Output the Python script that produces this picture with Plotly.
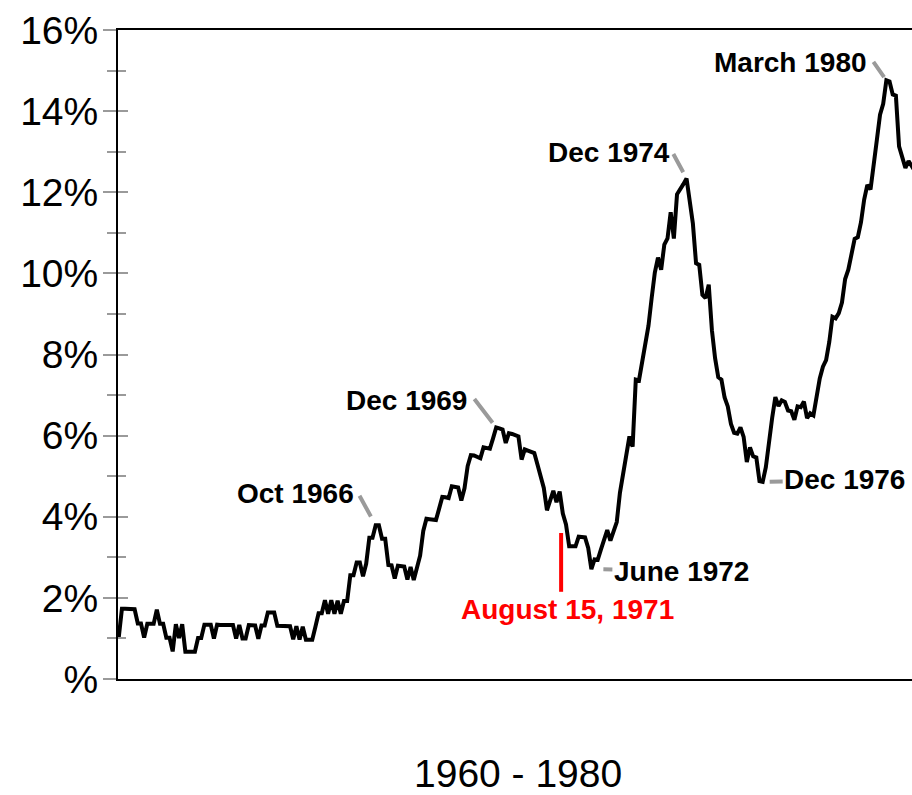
import plotly.graph_objects as go

# ---------------- data ----------------
START_YEAR = 1960
# US CPI, year-over-year change (%), monthly, Jan 1960 - Dec 1980
inflation_pct = [
    1.03, 1.73, 1.73, 1.72, 1.72, 1.72, 1.37, 1.37, 1.02, 1.36, 1.36, 1.36,  # 1960
    1.71, 1.36, 1.36, 1.02, 1.02, 0.68, 1.35, 1.01, 1.35, 0.67, 0.67, 0.67,  # 1961
    0.67, 1.01, 1.01, 1.34, 1.34, 1.34, 1.00, 1.34, 1.33, 1.33, 1.33, 1.33,  # 1962
    1.33, 1.00, 1.33, 1.00, 1.00, 1.33, 1.32, 1.32, 0.99, 1.32, 1.32, 1.64,  # 1963
    1.64, 1.64, 1.31, 1.31, 1.31, 1.31, 1.30, 0.98, 1.30, 0.97, 1.29, 0.97,  # 1964
    0.97, 0.97, 1.29, 1.62, 1.62, 1.94, 1.61, 1.94, 1.61, 1.93, 1.61, 1.92,  # 1965
    1.92, 2.56, 2.56, 2.87, 2.87, 2.53, 2.84, 3.48, 3.48, 3.79, 3.79, 3.46,  # 1966
    3.46, 2.81, 2.80, 2.48, 2.79, 2.78, 2.77, 2.45, 2.76, 2.44, 2.74, 3.04,  # 1967
    3.65, 3.95, 3.94, 3.93, 3.92, 4.20, 4.49, 4.48, 4.46, 4.75, 4.73, 4.72,  # 1968
    4.40, 4.70, 5.25, 5.52, 5.51, 5.48, 5.44, 5.71, 5.70, 5.68, 5.93, 6.20,  # 1969
    6.18, 6.15, 5.82, 6.06, 6.04, 6.01, 5.98, 5.41, 5.66, 5.63, 5.60, 5.57,  # 1970
    5.29, 5.00, 4.71, 4.16, 4.40, 4.64, 4.36, 4.62, 4.08, 3.81, 3.27, 3.27,  # 1971
    3.27, 3.51, 3.50, 3.49, 3.23, 2.71, 2.95, 2.94, 3.19, 3.42, 3.67, 3.41,  # 1972
    3.65, 3.87, 4.59, 5.06, 5.53, 5.98, 5.73, 7.38, 7.36, 7.80, 8.25, 8.71,  # 1973
    9.39, 10.02, 10.39, 10.09, 10.71, 10.86, 11.51, 10.86, 11.95, 12.06, 12.20, 12.34,  # 1974
    11.80, 11.23, 10.25, 10.21, 9.47, 9.39, 9.72, 8.60, 7.91, 7.44, 7.38, 6.94,  # 1975
    6.72, 6.29, 6.07, 6.05, 6.20, 5.97, 5.35, 5.71, 5.49, 5.46, 4.88, 4.86,  # 1976
    5.22, 5.91, 6.44, 6.95, 6.73, 6.87, 6.83, 6.62, 6.60, 6.39, 6.72, 6.70,  # 1977
    6.84, 6.43, 6.55, 6.50, 6.97, 7.41, 7.70, 7.86, 8.31, 8.93, 8.89, 9.02,  # 1978
    9.28, 9.86, 10.09, 10.49, 10.85, 10.89, 11.26, 11.82, 12.18, 12.07, 12.61, 13.29,  # 1979
    13.91, 14.18, 14.76, 14.73, 14.41, 14.38, 13.13, 12.87, 12.60, 12.77, 12.65, 12.52,  # 1980
]
dates = [START_YEAR + i / 12 for i in range(len(inflation_pct))]

ytick_vals = [0, 2, 4, 6, 8, 10, 12, 14, 16]
ytick_text = ["%", "2%", "4%", "6%", "8%", "10%", "12%", "14%", "16%"]
minor_vals = [1, 3, 5, 7, 9, 11, 13, 15]
x_title = "1960 - 1980"

# labelled turning points: (label, year, month)
diag_labels = [("Oct 1966", 1966, 10), ("Dec 1969", 1969, 12),
               ("Dec 1974", 1974, 12), ("March 1980", 1980, 3)]
side_labels = [("June 1972", 1972, 6), ("Dec 1976", 1976, 12)]
event_label = "August 15, 1971"
event_date = 1971 + 7 / 12 + 14 / 365

# ---------------- styles ----------------
FONT = "Liberation Sans, Arial, Helvetica, sans-serif"
GRAY = "#9a9a9a"
LABEL_SIZE = 28
# label offsets (px): xshift, yshift for text; ax, ay, standoff for leader
diag_style = {
    "Oct 1966": dict(xs=-20, ys=32, ax=-17, ay=-31, so=10),
    "Dec 1969": dict(xs=-27, ys=27, ax=-23, ay=-30, so=6),
    "Dec 1974": dict(xs=-15, ys=26, ax=-14, ay=-26, so=7),
    "March 1980": dict(xs=-17, ys=18, ax=-14, ay=-20, so=4),
}
side_style = {
    "June 1972": dict(ax=90, ay=2, so=12),
    "Dec 1976": dict(ax=82, ay=-2, so=7),
}
EVENT_Y_TOP, EVENT_Y_BOTTOM = 3.6, 2.15


def month_x(y, m):
    return dates[(y - START_YEAR) * 12 + m - 1]


def month_v(y, m):
    return inflation_pct[(y - START_YEAR) * 12 + m - 1]


fig = go.Figure()
fig.add_trace(go.Scatter(x=dates, y=inflation_pct, mode="lines",
                         line=dict(color="black", width=4),
                         hoverinfo="skip", showlegend=False))
# invisible copy so the overlaid (inside-tick) axis is drawn
fig.add_trace(go.Scatter(x=dates, y=inflation_pct, mode="lines", yaxis="y2",
                         line=dict(color="rgba(0,0,0,0)", width=0),
                         hoverinfo="skip", showlegend=False))

label_font = dict(family=FONT, size=LABEL_SIZE, color="black", weight="bold")
ann = []
for text, yr, mo in diag_labels:
    s = diag_style[text]
    x, y = month_x(yr, mo), month_v(yr, mo)
    ann.append(dict(x=x, y=y, xref="x", yref="y", text=text, showarrow=False,
                    xanchor="right", yanchor="middle", xshift=s["xs"], yshift=s["ys"],
                    font=label_font))
    ann.append(dict(x=x, y=y, xref="x", yref="y", text="", showarrow=True,
                    arrowhead=0, arrowwidth=4, arrowcolor=GRAY,
                    ax=s["ax"], ay=s["ay"], standoff=s["so"], font=dict(size=1)))
for text, yr, mo in side_labels:
    s = side_style[text]
    ann.append(dict(x=month_x(yr, mo), y=month_v(yr, mo), xref="x", yref="y",
                    text=text, showarrow=True, arrowhead=0, arrowwidth=4,
                    arrowcolor=GRAY, ax=s["ax"], ay=s["ay"], standoff=s["so"],
                    font=label_font))
ann.append(dict(x=event_date, y=EVENT_Y_BOTTOM, xref="x", yref="y", text=event_label,
                showarrow=False, xanchor="center", yanchor="top", xshift=6, yshift=0,
                font=dict(family=FONT, size=LABEL_SIZE, color="#ff0000", weight="bold")))
ann.append(dict(x=0.5, y=0, xref="paper", yref="paper", text=x_title, showarrow=False,
                xanchor="center", yanchor="middle", yshift=-94, xshift=3,
                font=dict(family=FONT, size=39, color="black")))

fig.add_shape(type="line", xref="x", yref="y", x0=event_date, x1=event_date,
              y0=EVENT_Y_BOTTOM, y1=EVENT_Y_TOP, line=dict(color="#ff0000", width=4))

fig.update_layout(
    width=912, height=795,
    margin=dict(l=118, r=0, t=30, b=116, pad=0),
    paper_bgcolor="white", plot_bgcolor="white",
    showlegend=False, annotations=ann,
    xaxis=dict(range=[1959.98, 1980.84], showgrid=False, zeroline=False,
               showline=True, mirror=True, linecolor="black", linewidth=2,
               ticks="", showticklabels=False, fixedrange=True),
    yaxis=dict(range=[0, 16], tickvals=ytick_vals, ticktext=ytick_text,
               ticks="outside", ticklen=13, tickwidth=2, tickcolor=GRAY,
               showline=True, linecolor="black", linewidth=2,
               showgrid=False, zeroline=False, fixedrange=True,
               ticklabelstandoff=-3,
               tickfont=dict(family=FONT, size=39, color="black"),
               minor=dict(tickvals=minor_vals, ticks="outside",
                          ticklen=9, tickwidth=2, tickcolor=GRAY, showgrid=False)),
    yaxis2=dict(range=[0, 16], overlaying="y", side="left", tickvals=ytick_vals,
                ticks="inside", ticklen=10, tickwidth=2, tickcolor=GRAY,
                showticklabels=False, showline=False, showgrid=False,
                zeroline=False, fixedrange=True,
                minor=dict(tickvals=minor_vals, ticks="inside",
                           ticklen=8, tickwidth=2, tickcolor=GRAY, showgrid=False)),
)

fig.write_html("out.html", config={"displayModeBar": False},
               post_script="document.body.style.margin='0px';")
